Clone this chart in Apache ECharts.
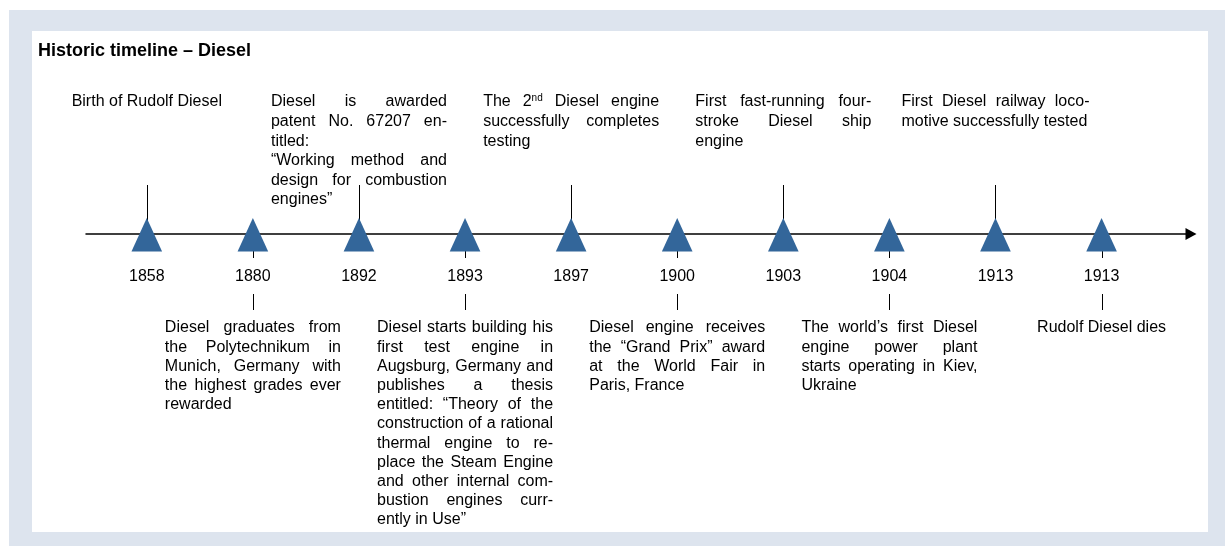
<!DOCTYPE html>
<html><head><meta charset="utf-8">
<script src="https://cdn.jsdelivr.net/npm/echarts@6/dist/echarts.min.js"></script>
<style>html,body{margin:0;padding:0;background:#fff}#c{width:1225px;height:546px}</style>
</head><body><div id="c"></div>
<script>
// ---------- data ----------
const years = ['1858', '1880', '1892', '1893', '1897', '1900', '1903', '1904', '1913', '1913'];
const sides = ['up', 'down', 'up', 'down', 'up', 'down', 'up', 'down', 'up', 'down'];
const notes = [
  ['Birth of Rudolf Diesel'],
  ['Diesel graduates from', 'the Polytechnikum in', 'Munich, Germany with', 'the highest grades ever', 'rewarded'],
  ['Diesel is awarded', 'patent No. 67207 en-', 'titled:', '“Working method and', 'design for combustion', 'engines”'],
  ['Diesel starts building his', 'first test engine in', 'Augsburg, Germany and', 'publishes a thesis', 'entitled: “Theory of the', 'construction of a rational', 'thermal engine to re-', 'place the Steam Engine', 'and other internal com-', 'bustion engines curr-', 'ently in Use”'],
  ['The 2^nd Diesel engine', 'successfully completes', 'testing'],
  ['Diesel engine receives', 'the “Grand Prix” award', 'at the World Fair in', 'Paris, France'],
  ['First fast-running four-', 'stroke Diesel ship', 'engine'],
  ['The world’s first Diesel', 'engine power plant', 'starts operating in Kiev,', 'Ukraine'],
  ['First Diesel railway loco-', 'motive successfully tested'],
  ['Rudolf Diesel dies']
];
// lines that end a paragraph (not justified)
const paragraphEnds = [[0], [4], [2, 5], [10], [2], [3], [2], [3], [1], [0]];
const centeredNotes = [0, 9];

// ---------- layout / style ----------
const FONT = '"Liberation Sans", Arial, Helvetica, sans-serif';
const FS = 16, SUP_FS = 10;
const STEP_UP = 19.6, STEP_DOWN = 19.2;
const BLOCK_W = 176, WIDE_BLOCK_W = 188, WIDE_BLOCK = 8;
const TRI_COLOR = '#33669a';

const ctx = document.createElement('canvas').getContext('2d');
function measure(t, size) { ctx.font = size + 'px ' + FONT; return ctx.measureText(t).width; }
function wordWidth(w) {
  if (w.indexOf('^') >= 0) { const p = w.split('^'); return measure(p[0], FS) + measure(p[1], SUP_FS); }
  return measure(w, FS);
}
function txt(t, x, y, size, align) {
  return { type: 'text', style: { text: t, x: x, y: y, fill: '#000', fontSize: size, fontFamily: FONT, align: align || 'left', verticalAlign: 'middle' } };
}
function wordEls(w, x, y) {
  if (w.indexOf('^') >= 0) {
    const p = w.split('^');
    const wa = measure(p[0], FS);
    return [txt(p[0], x, y, FS), txt(p[1], x + wa, y - 4, SUP_FS)];
  }
  return [txt(w, x, y, FS)];
}

function renderItem(params, api) {
  const i = params.dataIndex;
  const p = api.coord([api.value(0), api.value(1)]);
  const x = Math.round(p[0]) + 0.5, y = p[1];
  const up = sides[i] === 'up';
  const children = [];
  const ls = { stroke: '#000', lineWidth: 1 };
  if (up) {
    children.push({ type: 'line', shape: { x1: x, y1: y - 49, x2: x, y2: y }, style: ls });
  } else {
    children.push({ type: 'line', shape: { x1: x, y1: y, x2: x, y2: y + 24 }, style: ls });
    children.push({ type: 'line', shape: { x1: x, y1: y + 60, x2: x, y2: y + 76 }, style: ls });
  }
  children.push({ type: 'polygon', shape: { points: [[p[0], y - 16], [p[0] - 15.3, y + 17.5], [p[0] + 15.3, y + 17.5]] }, style: { fill: TRI_COLOR } });
  children.push(txt(years[i], p[0], y + 43, FS, 'center'));

  const lines = notes[i];
  const W = i === WIDE_BLOCK ? WIDE_BLOCK_W : BLOCK_W;
  const left = p[0] - W / 2;
  const y0 = up ? y - 132 : y + 94;
  const step = up ? STEP_UP : STEP_DOWN;
  const space = measure(' ', FS);
  lines.forEach(function (line, k) {
    const ly = y0 + k * step;
    if (centeredNotes.indexOf(i) >= 0) { children.push(txt(line, p[0], ly, FS, 'center')); return; }
    const words = line.split(' ');
    const widths = words.map(wordWidth);
    const sum = widths.reduce(function (a, b) { return a + b; }, 0);
    const justify = paragraphEnds[i].indexOf(k) < 0 && words.length > 1;
    const gap = justify ? (W - sum) / (words.length - 1) : space;
    let cx = left;
    words.forEach(function (w, j) {
      wordEls(w, cx, ly).forEach(function (e) { children.push(e); });
      cx += widths[j] + gap;
    });
  });
  return { type: 'group', children: children };
}

const chart = echarts.init(document.getElementById('c'), null, { renderer: 'canvas' });
chart.setOption({
  animation: false,
  backgroundColor: 'transparent',
  graphic: [
    { type: 'rect', left: 9, top: 10, z: -10, shape: { width: 1216, height: 536 }, style: { fill: '#dde4ee' } },
    { type: 'rect', left: 32, top: 31, z: -9, shape: { width: 1176, height: 501 }, style: { fill: '#ffffff' } }
  ],
  title: {
    text: 'Historic timeline – Diesel', left: 33, top: 37,
    textStyle: { fontSize: 18, fontWeight: 'bold', fontFamily: FONT, color: '#000' }
  },
  grid: { left: 86, top: 34, width: 1105, height: 200 },
  xAxis: {
    type: 'value', min: -0.573, max: 9.843,
    axisLine: { show: true, onZero: false, symbol: ['none', 'triangle'], symbolSize: [12, 11], lineStyle: { color: '#000', width: 1.5 } },
    axisTick: { show: false }, axisLabel: { show: false }, splitLine: { show: false }
  },
  yAxis: { type: 'value', min: 0, max: 1, show: false },
  series: [{
    type: 'custom',
    renderItem: renderItem,
    data: years.map(function (_, i) { return [i, 0]; }),
    z: 5
  }]
});
</script></body></html>
